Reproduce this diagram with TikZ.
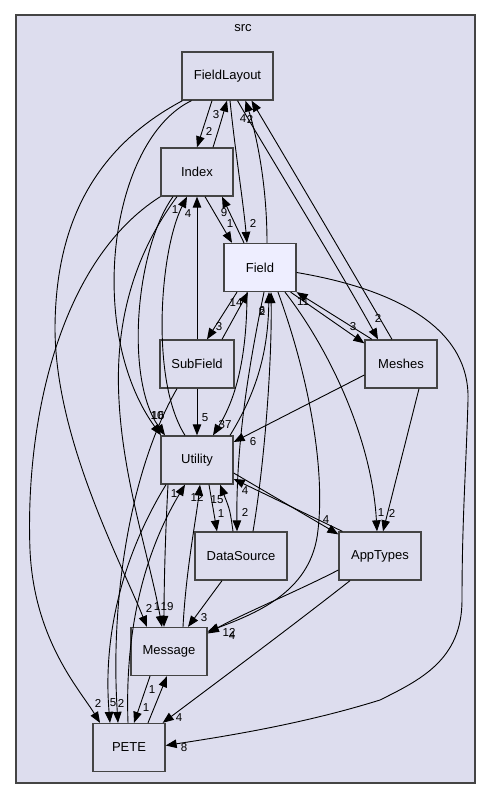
\documentclass[tikz,border=0pt]{standalone}
\usepackage{fontspec}
\setmainfont{Liberation Sans}
\usetikzlibrary{arrows.meta}
\definecolor{bgc}{HTML}{DDDDEE}
\definecolor{fieldc}{HTML}{EEEEFF}
\definecolor{bordc}{HTML}{444444}
\tikzset{
 dirbox/.style={draw=bordc, fill=bgc, line width=1.3pt, minimum height=48pt, inner sep=0pt, font=\fontsize{13}{15}\selectfont},
 edge/.style={line width=0.9pt, -{Triangle[length=11pt,width=8.5pt]}},
 lbl/.style={font=\fontsize{11.5}{13}\selectfont, inner sep=0pt},
}
\begin{document}
\begin{tikzpicture}[x=1pt,y=-1pt]
\useasboundingbox[fill=white] (0,0) rectangle (491,799);
\draw[bordc, fill=bgc, line width=1.1pt] (16,15) rectangle (475,783);
\node[font=\fontsize{13}{15}\selectfont] (src) at (243,28) {src};

\node[dirbox, minimum width=91pt] (FieldLayout) at (227.5,76) {FieldLayout};
\node[dirbox, minimum width=72pt] (Index) at (197,172) {Index};
\node[dirbox, minimum width=72pt, fill=fieldc] (Field) at (260,267.5) {Field};
\node[dirbox, minimum width=72pt] (Meshes) at (401,364) {Meshes};
\node[dirbox, minimum width=74pt] (SubField) at (197,364) {SubField};
\node[dirbox, minimum width=72pt] (Utility) at (197,460) {Utility};
\node[dirbox, minimum width=92pt] (DataSource) at (241,556) {DataSource};
\node[dirbox, minimum width=82pt] (AppTypes) at (380,556) {AppTypes};
\node[dirbox, minimum width=76pt] (Message) at (169,651.5) {Message};
\node[dirbox, minimum width=72pt] (PETE) at (129,747.5) {PETE};

% edges
\draw[edge] ([xshift=-15.5]FieldLayout.south) -- (Index.north);
\draw[edge] ([xshift=16]Index.north) .. controls (220,125) .. ([xshift=-0.5]FieldLayout.south);
\draw[edge] ([xshift=2.5]FieldLayout.south) .. controls (235,150) and (243,200) .. ([xshift=-13]Field.north);
\draw[edge] ([xshift=7]Field.north) .. controls (267,180) and (255,130) .. ([xshift=18]FieldLayout.south);
\draw[edge] ([xshift=-9]Meshes.north) .. controls (340,250) and (275,140) .. ([xshift=24]FieldLayout.south);
\draw[edge] ([xshift=10]FieldLayout.south) .. controls (260,140) and (340,270) .. ([xshift=-23]Meshes.north);
\draw[edge] ([xshift=-36]FieldLayout.south) .. controls (110,140) and (85,330) .. ([xshift=-36]Utility.north);
\draw[edge] ([xshift=-45]FieldLayout.south) .. controls (90,150) and (55,230) .. (55,330) .. controls (56,440) and (120,560) .. ([xshift=-22]Message.north);
\draw[edge] (Index.south west) .. controls (60,260) and (25,420) .. (30,550) .. controls (34,640) and (80,690) .. ([xshift=-29]PETE.north);
\draw[edge] ([xshift=-24]Index.south) .. controls (135,250) and (125,380) .. ([xshift=-32]Utility.north);
\draw[edge] ([xshift=-20]Index.south) .. controls (130,260) and (115,330) .. (119,400) .. controls (123,480) and (150,560) .. ([xshift=-7]Message.north);
\draw[edge] ([xshift=-12]Utility.north) .. controls (150,380) and (160,250) .. ([xshift=-10]Index.south);
\draw[edge] (SubField.north) -- (Index.south);
\draw[edge] ([xshift=8]Index.south) -- ([xshift=-28]Field.north);
\draw[edge] ([xshift=-16]Field.north) -- ([xshift=25]Index.south);
\draw[edge] ([xshift=-23]Field.south) -- ([xshift=10]SubField.north);
\draw[edge] ([xshift=25]SubField.north) -- ([xshift=-12]Field.south);
\draw[edge] ([xshift=-13]Field.south) .. controls (247,360) and (235,400) .. ([xshift=16]Utility.north);
\draw[edge] (SubField.south) -- (Utility.north);
\draw[edge] ([xshift=33]Utility.north) .. controls (258,390) and (268,350) .. ([xshift=9]Field.south);
\draw[edge] ([xshift=12]DataSource.north) .. controls (265,460) and (272,360) .. ([xshift=11]Field.south);
\draw[edge] ([xshift=4]Field.south) .. controls (250,360) and (236,440) .. ([xshift=-4]DataSource.north);
\draw[edge] ([xshift=12]Utility.south) -- ([xshift=-24]DataSource.north);
\draw[edge] ([xshift=-8]DataSource.north) .. controls (230,510) .. ([xshift=23]Utility.south);
\draw[edge] ([yshift=-13]Utility.east) -- ([yshift=-3]AppTypes.north west);
\draw[edge] ([xshift=4]AppTypes.north west) -- ([yshift=-19]Utility.east);
\draw[edge] ([yshift=-11]Meshes.west) -- ([yshift=18]Utility.east);
\draw[edge] ([xshift=18]Meshes.south) -- ([xshift=3]AppTypes.north);
\draw[edge] ([xshift=25]Field.south) .. controls (330,350) and (372,440) .. ([xshift=-3]AppTypes.north);
\draw[edge] ([xshift=-6]Field.south east) -- ([yshift=-4]Meshes.north west);
\draw[edge] ([xshift=-29]Meshes.north) -- (Field.south east);
\draw[edge] ([yshift=-5]Field.east) .. controls (400,290) and (470,330) .. (468,400) .. controls (466,470) and (462,520) .. (462,600) .. controls (462,660) and (420,680) .. (380,700) .. controls (300,725) and (220,737) .. ([yshift=2]PETE.east);
\draw[edge] ([xshift=-30]AppTypes.south) .. controls (300,620) and (220,680) .. ([xshift=-3]PETE.north east);
\draw[edge] ([yshift=-14]AppTypes.west) .. controls (300,590) and (240,615) .. ([yshift=18]Message.east);
\draw[edge] ([xshift=18]Field.south) .. controls (310,380) and (325,470) .. (318,530) .. controls (312,590) and (260,612) .. ([yshift=20]Message.east);
\draw[edge] ([xshift=-19]DataSource.south) -- ([xshift=19]Message.north);
\draw[edge] ([xshift=-29]Utility.south) .. controls (165,540) and (164,590) .. ([xshift=-5]Message.north);
\draw[edge] ([xshift=14]Message.north) .. controls (186,570) and (196,520) .. ([xshift=3]Utility.south);
\draw[edge] ([xshift=-1]PETE.north) .. controls (125,640) and (140,560) .. ([xshift=-12]Utility.south);
\draw[edge] ([xshift=-31]Utility.south) .. controls (120,560) and (103,640) .. ([xshift=-19]PETE.north);
\draw[edge] ([xshift=-20]SubField.south) .. controls (130,470) and (110,600) .. ([xshift=-11]PETE.north);
\draw[edge] ([xshift=-19]Message.south) -- ([xshift=5]PETE.north);
\draw[edge] ([xshift=19]PETE.north) -- ([xshift=-2]Message.south);

% labels
\node[lbl] (l1) at (209,131) {2};
\node[lbl] (l2) at (216,115) {3};
\node[lbl] (l3) at (253,223) {2};
\node[lbl] (l4) at (243,119) {4};
\node[lbl] (l5) at (250,119) {2};
\node[lbl] (l6) at (378,318) {2};
\node[lbl] (l7) at (157,416) {10};
\node[lbl] (l8) at (158,416) {16};
\node[lbl] (l9) at (149,608) {2};
\node[lbl] (l10) at (98,703) {2};
\node[lbl] (l11) at (157,607) {1};
\node[lbl] (l12) at (175,210) {1};
\node[lbl] (l13) at (188,214) {4};
\node[lbl] (l14) at (230,224) {1};
\node[lbl] (l15) at (224,213) {9};
\node[lbl] (l16) at (219,327) {3};
\node[lbl] (l17) at (236,303) {14};
\node[lbl] (l18) at (225,425) {37};
\node[lbl] (l19) at (205,418) {5};
\node[lbl] (l20) at (262,311) {2};
\node[lbl] (l21) at (262,311) {6};
\node[lbl] (l22) at (245,512) {2};
\node[lbl] (l23) at (221,514) {1};
\node[lbl] (l24) at (217,500) {15};
\node[lbl] (l25) at (326,520) {4};
\node[lbl] (l26) at (245,491) {4};
\node[lbl] (l27) at (253,442) {6};
\node[lbl] (l28) at (392,513) {2};
\node[lbl] (l29) at (381,513) {1};
\node[lbl] (l30) at (353,327) {3};
\node[lbl] (l31) at (303,302) {11};
\node[lbl] (l32) at (184,748) {8};
\node[lbl] (l33) at (179,718) {4};
\node[lbl] (l34) at (232,636) {4};
\node[lbl] (l35) at (229,632) {12};
\node[lbl] (l36) at (204,618) {3};
\node[lbl] (l37) at (167,607) {19};
\node[lbl] (l38) at (197,497) {12};
\node[lbl] (l39) at (174,494) {1};
\node[lbl] (l40) at (113,703) {5};
\node[lbl] (l41) at (121,703) {2};
\node[lbl] (l42) at (146,708) {1};
\node[lbl] (l43) at (152,690) {1};
\end{tikzpicture}
\end{document}
